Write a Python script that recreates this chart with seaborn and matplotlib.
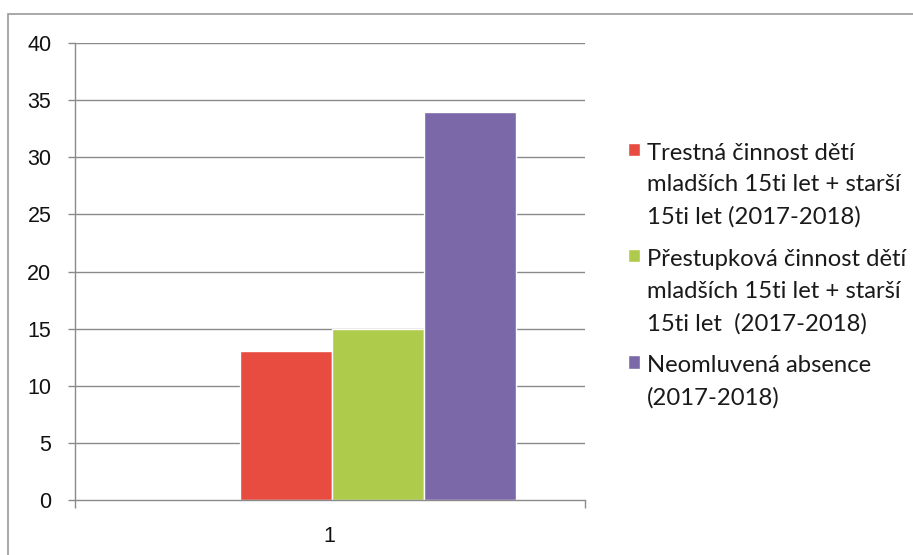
import numpy as np
import pandas as pd
import matplotlib
matplotlib.use("Agg")
import matplotlib.pyplot as plt
from matplotlib.patches import Rectangle
import seaborn as sns

# Data
category = ["1"]
series = [
    "Trestná činnost dětí\nmladších 15ti let + starší\n15ti let (2017-2018)",
    "Přestupková činnost dětí\nmladších 15ti let + starší\n15ti let  (2017-2018)",
    "Neomluvená absence\n(2017-2018)",
]
values = [13, 15, 34]
colors = ["#E84B40", "#AFCB4C", "#7A68A8"]
yticks = [0, 5, 10, 15, 20, 25, 30, 35, 40]

df = pd.DataFrame({"cat": category * len(series), "series": series, "value": values})

sns.set_theme(style="white")
plt.rcParams["font.family"] = ["Liberation Sans Narrow", "Liberation Sans", "DejaVu Sans"]

fig = plt.figure(figsize=(9.13, 5.55), dpi=100)
ax = fig.add_axes([75 / 913, 1 - 500 / 555, 510 / 913, 457 / 555])

sns.barplot(data=df, x="cat", y="value", hue="series", palette=colors,
            width=0.8, saturation=1, ax=ax, legend=True)

# group sits right of centre in the original
ax.set_xlim(-0.878, 0.60)
ax.set_ylim(0, 40)
ax.set_yticks(yticks)
ax.set_xticks([-0.14])
ax.set_xticklabels(category)
ax.set_xlabel("")
ax.set_ylabel("")

grid_c = "#8a8a8a"
for y in yticks[1:]:
    ax.axhline(y, color=grid_c, lw=1, zorder=0)
for s in ["top", "right"]:
    ax.spines[s].set_visible(False)
for s in ["left", "bottom"]:
    ax.spines[s].set_color(grid_c)
    ax.spines[s].set_linewidth(1)

ax.tick_params(axis="y", left=True, length=5, width=1, color=grid_c, pad=12,
               labelsize=15.5, labelcolor="#111111")
ax.tick_params(axis="x", bottom=False, pad=13, labelsize=15.5, labelcolor="#111111")
ax.set_xticks([-0.878, 0.60], minor=True)
ax.tick_params(axis="x", which="minor", bottom=True, length=6, width=1, color=grid_c)

handles, labels = ax.get_legend_handles_labels()
ax.get_legend().remove()
leg = fig.legend(handles, labels, loc="upper left", bbox_to_anchor=(618 / 913, 1 - 133 / 555),
                 frameon=False, prop={"family": "Lato", "size": 17.2},
                 handlelength=0.5, handleheight=0.5, handletextpad=0.3,
                 labelspacing=0.88, borderaxespad=0)
for t in leg.get_texts():
    t.set_linespacing(1.63)
    t.set_color("#1a1a1a")
# put the key square next to the first line of each label
for col in leg._legend_handle_box.get_children():
    for row in col.get_children():
        row.align = "top"

# chart area border
fig.patches.append(Rectangle((8 / 913, -0.1), 1.1, 1.1 - 14 / 555, transform=fig.transFigure,
                             fill=False, edgecolor="#9a9a9a", lw=1.2))

fig.savefig("out.png", dpi=100)
